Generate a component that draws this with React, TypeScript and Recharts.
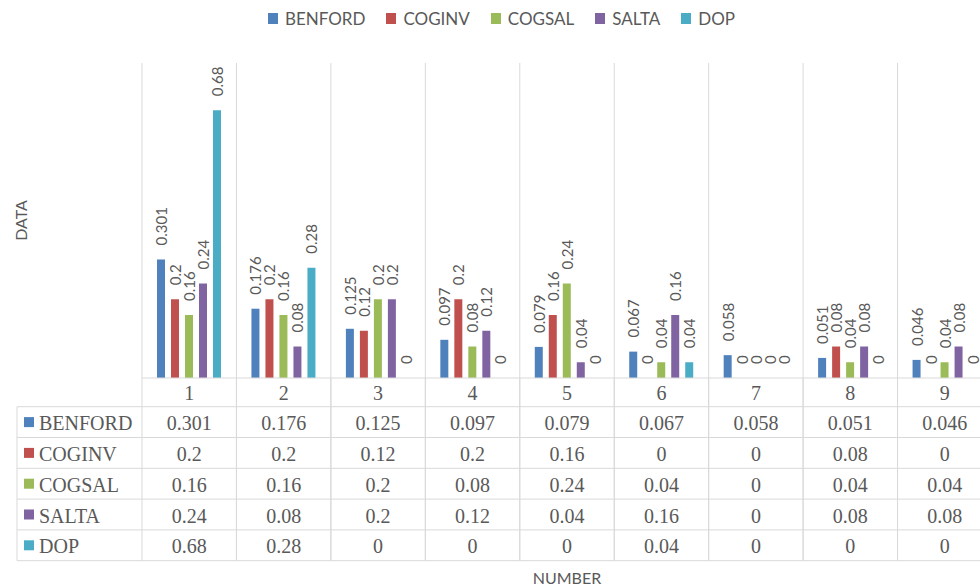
import React from 'react';
import { BarChart, Bar, XAxis, YAxis, CartesianGrid, Legend, Rectangle } from 'recharts';

const categories = ['1', '2', '3', '4', '5', '6', '7', '8', '9'];
const benford = [0.301, 0.176, 0.125, 0.097, 0.079, 0.067, 0.058, 0.051, 0.046];
const coginv = [0.2, 0.2, 0.12, 0.2, 0.16, 0, 0, 0.08, 0];
const cogsal = [0.16, 0.16, 0.2, 0.08, 0.24, 0.04, 0, 0.04, 0.04];
const salta = [0.24, 0.08, 0.2, 0.12, 0.04, 0.16, 0, 0.08, 0.08];
const dop = [0.68, 0.28, 0, 0, 0, 0.04, 0, 0, 0];

const seriesNames = ['BENFORD', 'COGINV', 'COGSAL', 'SALTA', 'DOP'];
const seriesValues = [benford, coginv, cogsal, salta, dop];
const seriesColors = ['#4F81BD', '#C0504D', '#9BBB59', '#8064A2', '#4BACC6'];

const data = categories.map((c, i) => {
  const row: any = { cat: c };
  seriesNames.forEach((n, k) => {
    row[n] = seriesValues[k][i];
  });
  return row;
});

const TEXT = '#595959';
const GRID = '#d9d9d9';
const SANS = 'Lato, "Noto Sans", sans-serif';
const SERIF = '"Liberation Serif", "Times New Roman", serif';
const HEADER_H = 28.7;
const ROW_H = 30.8;
const LEFT_COL_W = 125;

const makeShape = (name: string, color: string) => (props: any) => {
  const { x, y, width, height, payload } = props;
  const value = payload ? payload[name] : props.value;
  const cx = x + width / 2;
  const cy = y - 14;
  return (
    <g>
      {height > 0 ? <Rectangle x={x} y={y} width={width} height={height} fill={color} /> : null}
      <text
        x={cx}
        y={cy}
        transform={`rotate(-90, ${cx}, ${cy})`}
        textAnchor="start"
        dominantBaseline="central"
        fill={TEXT}
        fontFamily={SANS}
        fontSize={15}
      >
        {String(value)}
      </text>
    </g>
  );
};

const TableTick = (props: any) => {
  const { x, y, payload } = props;
  const i = payload.index;
  const half = payload.offset && payload.offset > 0 ? payload.offset : 850 / 18;
  const left = x - half;
  const right = x + half;
  const bottom = y + HEADER_H + ROW_H * seriesNames.length;
  const els: any[] = [];
  els.push(<line key="vl" x1={left} y1={y} x2={left} y2={bottom} stroke={GRID} />);
  els.push(<line key="vr" x1={right} y1={y} x2={right} y2={bottom} stroke={GRID} />);
  els.push(
    <text key="cat" x={x} y={y + HEADER_H / 2 + 1} textAnchor="middle" dominantBaseline="central"
      fill={TEXT} fontFamily={SERIF} fontSize={20}>{payload.value}</text>
  );
  for (let r = 0; r <= seriesNames.length; r++) {
    const ly = y + HEADER_H + r * ROW_H;
    els.push(<line key={'h' + r} x1={i === 0 ? left - LEFT_COL_W : left} y1={ly} x2={right} y2={ly} stroke={GRID} />);
  }
  seriesNames.forEach((n, r) => {
    const cy = y + HEADER_H + r * ROW_H + ROW_H / 2 + 1;
    els.push(
      <text key={'v' + r} x={x} y={cy} textAnchor="middle" dominantBaseline="central"
        fill={TEXT} fontFamily={SERIF} fontSize={20}>{String(seriesValues[r][i])}</text>
    );
    if (i === 0) {
      els.push(<rect key={'k' + r} x={left - LEFT_COL_W + 7} y={cy - 6} width={10} height={10} fill={seriesColors[r]} />);
      els.push(
        <text key={'n' + r} x={left - LEFT_COL_W + 22} y={cy} textAnchor="start" dominantBaseline="central"
          fill={TEXT} fontFamily={SERIF} fontSize={20}>{n}</text>
      );
    }
  });
  if (i === 0) {
    els.push(<line key="lc" x1={left - LEFT_COL_W} y1={y + HEADER_H} x2={left - LEFT_COL_W} y2={bottom} stroke={GRID} />);
  }
  return <g>{els}</g>;
};

const LegendContent = () => (
  <div style={{ height: 28, display: 'flex', justifyContent: 'center', alignItems: 'center', fontFamily: SANS, fontSize: 17, color: TEXT }}>
    {seriesNames.map((n, k) => (
      <div key={n} style={{ display: 'flex', alignItems: 'center', margin: '0 10.5px' }}>
        <span style={{ display: 'inline-block', width: 10, height: 11, background: seriesColors[k], marginRight: 7 }} />
        <span>{n}</span>
      </div>
    ))}
  </div>
);

const YTitle = (props: any) => {
  const { viewBox } = props;
  const cy = viewBox.y + viewBox.height / 2;
  return (
    <text x={20} y={cy} transform={`rotate(-90, 20, ${cy})`} textAnchor="middle" dominantBaseline="central"
      fill={TEXT} fontFamily={SANS} fontSize={16}>DATA</text>
  );
};

const XTitle = (props: any) => {
  const { viewBox } = props;
  const cx = viewBox.x + viewBox.width / 2;
  return (
    <text x={cx} y={577} textAnchor="middle" dominantBaseline="central"
      fill={TEXT} fontFamily={SANS} fontSize={16}>NUMBER</text>
  );
};

export default function App() {
  return (
    <div style={{ position: 'absolute', left: 0, top: 0, width: 980, height: 586, overflow: 'hidden', background: '#fff' }}>
      <BarChart
        width={1000}
        height={586}
        data={data}
        margin={{ top: 35, right: 8, bottom: 2, left: 0 }}
        barSize={8}
        barGap={6}
      >
        <Legend verticalAlign="top" align="center" wrapperStyle={{ top: 4, left: 0, width: 1003 }} content={<LegendContent />} />
        <CartesianGrid
          horizontal={false}
          vertical
          stroke={GRID}
          verticalCoordinatesGenerator={({ offset }: any) =>
            Array.from({ length: categories.length + 1 }, (_, k) => offset.left + (k * offset.width) / categories.length)
          }
        />
        <XAxis
          dataKey="cat"
          height={206}
          tickLine={false}
          tickSize={0}
          tickMargin={0}
          axisLine={{ stroke: GRID }}
          tick={<TableTick />}
          interval={0}
          label={<XTitle />}
        />
        <YAxis width={142} domain={[0, 0.8]} tick={false} axisLine={false} tickLine={false} label={<YTitle />} />
        {seriesNames.map((n, k) => (
          <Bar key={n} dataKey={n} fill={seriesColors[k]} isAnimationActive={false} shape={makeShape(n, seriesColors[k])} />
        ))}
      </BarChart>
    </div>
  );
}
